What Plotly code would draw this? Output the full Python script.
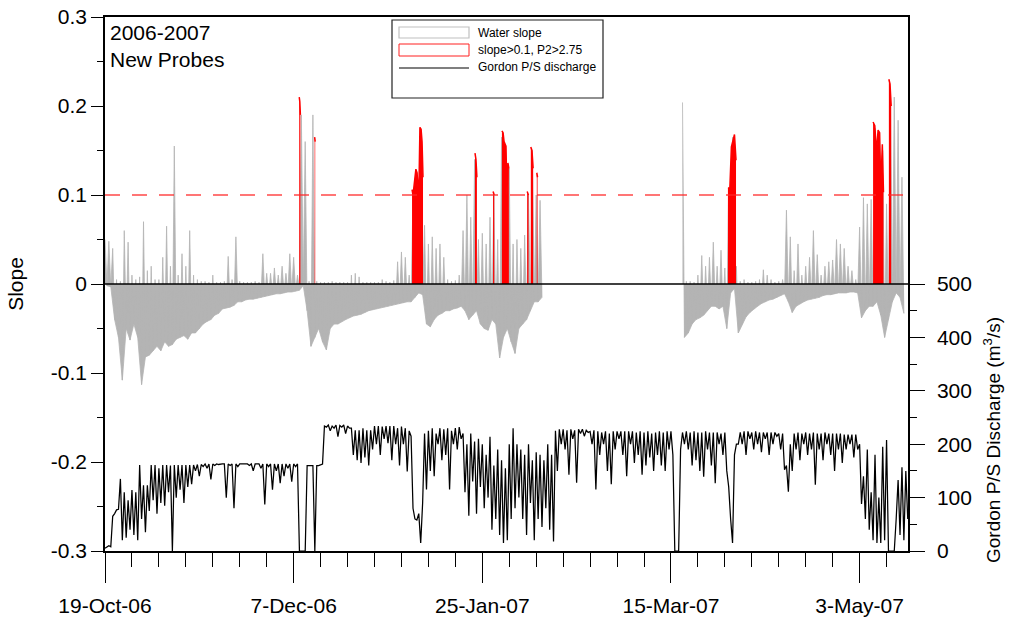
import pandas as pd
import plotly.graph_objects as go

# ---------------- data ----------------
START = "2006-10-19"
tick_dates = ["2006-10-19", "2006-12-07", "2007-01-25", "2007-03-15", "2007-05-03"]
tick_labels = ["19-Oct-06", "7-Dec-06", "25-Jan-07", "15-Mar-07", "3-May-07"]
slope_ticks = [-0.3, -0.2, -0.1, 0, 0.1, 0.2, 0.3]
slope_tick_labels = ["-0.3", "-0.2", "-0.1", "0", "0.1", "0.2", "0.3"]
q_ticks = [0, 100, 200, 300, 400, 500]
q_tick_labels = ["0", "100", "200", "300", "400", "500"]
threshold = 0.1

N = None
# water slope: daily positive peak (at 00:00) and negative trough (at 12:00), day 0 = 19-Oct-06
slope_hi = [
    0.050, 0.048, 0.040, 0.005, 0.003, 0.060, 0.047, 0.010, 0.005, 0.008,
    0.070, 0.015, 0.020, 0.005, 0.005, 0.030, 0.065, 0.020, 0.155, 0.010,
    0.034, 0.020, 0.060, 0.010, 0.005, 0.003, 0.003, 0.002, 0.010, 0.002,
    0.002, 0.003, 0.031, 0.005, 0.053, 0.003, 0.002, 0.002, 0.002, 0.003,
    0.002, 0.034, 0.012, 0.012, 0.018, 0.010, 0.020, 0.012, 0.034, 0.030,
    0.010, 0.190, 0.160, 0.003, 0.190, 0.003, 0.002, 0.002, 0.002, 0.003,
    0.002, 0.002, 0.002, 0.002, 0.010, 0.012, 0.008, 0.002, 0.002, 0.002,
    0.002, 0.002, 0.005, 0.003, 0.002, 0.004, 0.025, 0.036, 0.030, 0.010,
    0.100, 0.125, 0.170, 0.066, 0.045, 0.053, 0.040, 0.045, 0.030, 0.005,
    0.003, 0.004, 0.010, 0.060, 0.100, 0.075, 0.140, 0.050, 0.057, 0.045,
    0.075, 0.100, 0.050, 0.165, 0.150, 0.130, 0.045, 0.050, 0.040, 0.055,
    0.100, 0.150, 0.100, 0.094, N, N, N, N, N, N,
    N, N, N, N, N, N, N, N, N, N,
    N, N, N, N, N, N, N, N, N, N,
    N, N, N, N, N, N, N, N, N, N,
    0.204, 0.003, 0.003, 0.002, 0.010, 0.032, 0.020, 0.030, 0.047, 0.020,
    0.038, 0.018, 0.108, 0.165, 0.020, 0.003, 0.005, 0.002, 0.002, 0.003,
    0.005, 0.016, 0.010, 0.005, 0.002, 0.003, 0.005, 0.083, 0.053, 0.015,
    0.045, 0.010, 0.020, 0.030, 0.060, 0.033, 0.010, 0.020, 0.025, 0.027,
    0.050, 0.045, 0.040, 0.020, 0.015, 0.005, 0.064, 0.097, 0.090, 0.095,
    0.175, 0.170, 0.150, 0.090, 0.220, 0.210, 0.184, 0.120, N,
]
slope_lo = [
    -0.002, -0.003, -0.040, -0.060, -0.108, -0.050, -0.063, -0.045, -0.060, -0.113,
    -0.082, -0.080, -0.075, -0.070, -0.075, -0.065, -0.070, -0.068, -0.062, -0.060,
    -0.058, -0.062, -0.055, -0.055, -0.050, -0.045, -0.042, -0.040, -0.035, -0.033,
    -0.028, -0.027, -0.026, -0.024, -0.020, -0.020, -0.018, -0.017, -0.017, -0.016,
    -0.015, -0.014, -0.013, -0.012, -0.011, -0.011, -0.010, -0.009, -0.009, -0.008,
    -0.007, -0.002, -0.030, -0.070, -0.060, -0.050, -0.065, -0.074, -0.050, -0.045,
    -0.045, -0.042, -0.040, -0.038, -0.036, -0.035, -0.034, -0.032, -0.030, -0.029,
    -0.028, -0.027, -0.026, -0.025, -0.024, -0.023, -0.022, -0.021, -0.020, -0.020,
    -0.015, -0.010, -0.012, -0.045, -0.048, -0.040, -0.035, -0.033, -0.030, -0.030,
    -0.028, -0.027, -0.025, -0.030, -0.040, -0.035, -0.030, -0.045, -0.050, -0.052,
    -0.040, -0.045, -0.083, -0.060, -0.050, -0.065, -0.078, -0.050, -0.045, -0.040,
    -0.030, -0.020, -0.020, -0.015, N, N, N, N, N, N,
    N, N, N, N, N, N, N, N, N, N,
    N, N, N, N, N, N, N, N, N, N,
    N, N, N, N, N, N, N, N, N, N,
    -0.060, -0.055, -0.045, -0.040, -0.038, -0.035, -0.030, -0.025, -0.025, -0.028,
    -0.025, -0.050, -0.010, -0.005, -0.055, -0.045, -0.037, -0.032, -0.028, -0.025,
    -0.022, -0.020, -0.018, -0.017, -0.015, -0.013, -0.011, -0.020, -0.032, -0.025,
    -0.022, -0.020, -0.018, -0.017, -0.016, -0.015, -0.013, -0.012, -0.012, -0.011,
    -0.010, -0.010, -0.010, -0.009, -0.009, -0.010, -0.038, -0.030, -0.025, -0.025,
    -0.020, -0.035, -0.060, -0.040, -0.020, -0.010, -0.015, -0.033, N,
]

# slope>0.1, P2>2.75 periods (day offset from 19-Oct-06, slope value); None separates periods
red_day = [50.45, 50.6, 50.75, N, 54.45, 54.6, N,
           79.75, 80.0, 80.75, 81.05, 81.3, 81.55, 81.8, 82.1, 82.35, 82.6, N,
           96.1, 96.35, 96.6, N, 100.8, 101.1, N,
           103.1, 103.4, 103.65, 103.9, 104.15, 104.4, 104.65, 104.9, N,
           109.65, 110.0, N, 110.6, 110.9, 111.2, N, 112.15, 112.35, N,
           161.8, 162.3, 162.7, 163.1, 163.5, 163.9, N,
           199.5, 199.95, 200.4, 200.8, 201.2, 201.5, 201.9, 202.2, N,
           203.6, 203.9, 204.2]
red_val = [0.21, 0.205, 0.19, N, 0.165, 0.16, N,
           0.106, 0.1, 0.129, 0.125, 0.109, 0.11, 0.176, 0.174, 0.16, 0.12, N,
           0.147, 0.14, 0.12, N, 0.104, 0.1, N,
           0.172, 0.17, 0.16, 0.158, 0.155, 0.1, 0.136, 0.13, N,
           0.104, 0.1, N, 0.154, 0.15, 0.13, N, 0.125, 0.12, N,
           0.108, 0.108, 0.154, 0.16, 0.168, 0.139, N,
           0.182, 0.178, 0.148, 0.173, 0.17, 0.109, 0.157, 0.103, N,
           0.23, 0.225, 0.2]

# Gordon P/S discharge (m3/s): value at 00:00 (q_a) and 12:00 (q_b) of each day
q_a = [
    5, 10, 65, 77, 135, 110, 95, 114, 110, 161,
    123, 123, 161, 161, 155, 161, 161, 160, 161, 161,
    161, 161, 161, 161, 162, 162, 163, 163, 163, 163,
    163, 163, 163, 163, 163, 163, 163, 163, 163, 163,
    163, 163, 163, 163, 163, 163, 163, 163, 163, 163,
    163, 0, 0, 160, 160, 160, 162, 234, 236, 234,
    236, 235, 236, 234, 230, 226, 226, 230, 226, 226,
    234, 234, 233, 234, 234, 234, 230, 233, 230, 225,
    80, 58, 15, 220, 225, 230, 220, 230, 228, 230,
    225, 230, 232, 220, 200, 220, 205, 210, 200, 180,
    214, 160, 190, 170, 155, 200, 230, 200, 190, 180,
    200, 170, 185, 180, 170, 200, 180, 225, 228, 228,
    226, 228, 226, 228, 228, 226, 224, 226, 224, 222,
    224, 220, 224, 224, 224, 224, 224, 224, 222, 224,
    222, 224, 220, 222, 224, 222, 224, 224, 0, 0,
    222, 224, 222, 224, 222, 222, 224, 222, 222, 222,
    220, 222, 120, 15, 200, 222, 224, 224, 222, 224,
    222, 222, 222, 222, 222, 220, 220, 160, 200, 220,
    222, 220, 222, 220, 222, 220, 220, 222, 220, 220,
    220, 220, 218, 218, 218, 218, 200, 140, 190, 110,
    180, 100, 195, 208, 0, 0, 133, 157, 150,
]
q_b = [
    8, 8, 70, 78, 20, 25, 40, 30, 20, 60,
    35, 75, 95, 70, 90, 85, 110, 0, 100, 115,
    90, 120, 125, 150, 140, 158, 155, 134, 160, 162,
    163, 100, 160, 80, 158, 163, 163, 160, 150, 163,
    155, 87, 158, 115, 150, 127, 140, 155, 130, 158,
    0, 0, 160, 160, 0, 160, 163, 232, 225, 230,
    214, 232, 220, 230, 180, 170, 165, 175, 160, 190,
    200, 180, 210, 202, 170, 200, 160, 200, 149, 215,
    60, 70, 90, 115, 150, 140, 200, 170, 180, 115,
    200, 190, 210, 110, 66, 130, 70, 120, 80, 100,
    40, 60, 30, 15, 20, 60, 80, 100, 60, 30,
    90, 20, 60, 45, 80, 40, 18, 150, 200, 190,
    143, 210, 128, 220, 215, 222, 200, 115, 180, 200,
    150, 125, 190, 210, 180, 140, 200, 165, 180, 143,
    160, 175, 150, 180, 160, 150, 190, 180, 0, 190,
    200, 190, 160, 170, 150, 139, 190, 160, 127, 200,
    180, 150, 60, 180, 200, 200, 180, 210, 190, 200,
    185, 210, 180, 200, 215, 190, 152, 111, 150, 190,
    170, 200, 180, 190, 124, 190, 170, 200, 180, 150,
    190, 165, 190, 200, 175, 190, 88, 60, 40, 20,
    15, 15, 20, 0, 0, 60, 30, 20, 60,
]

# ---------------- build series ----------------
start = pd.Timestamp(START)
assert len(slope_hi) == len(slope_lo) == len(q_a) == len(q_b)
assert len(red_day) == len(red_val)


def day(d):
    return start + pd.Timedelta(days=d)


def runs(xs, ys):
    """Split a series into runs of consecutive non-missing points."""
    out, cx, cy = [], [], []
    for x, y in zip(xs, ys):
        if x is None or y is None:
            if cx:
                out.append((cx, cy))
            cx, cy = [], []
        else:
            cx.append(x)
            cy.append(y)
    if cx:
        out.append((cx, cy))
    return out


t_s, v_s, v_q, t_lo = [], [], [], []
for d in range(len(slope_hi)):
    t_s += [day(d), day(d + 0.5)]
    v_s += [slope_hi[d], slope_lo[d]]
    v_q += [q_a[d], q_b[d]]
    t_lo.append(day(d + 0.5))

t_red = [None if d is None else day(d) for d in red_day]

FONT = "Liberation Sans, Arial, Helvetica, sans-serif"
GRAY = "#b4b4b4"

fig = go.Figure()
# water slope: negative envelope (solid) + tidal zig-zag (peaks)
for xs, ys in runs(t_lo, slope_lo):
    fig.add_trace(go.Scatter(x=xs, y=ys, mode="lines", fill="tozeroy",
                             line=dict(color=GRAY, width=0.8), fillcolor=GRAY,
                             hoverinfo="skip", showlegend=False))
for xs, ys in runs(t_s, v_s):
    fig.add_trace(go.Scatter(x=xs, y=ys, mode="lines", fill="tozeroy",
                             line=dict(color=GRAY, width=0.8), fillcolor=GRAY,
                             name="Water slope", showlegend=False))
for xs, ys in runs(t_red, red_val):
    fig.add_trace(go.Scatter(x=xs, y=ys, mode="lines", fill="tozeroy",
                             line=dict(color="#ff0000", width=1.5), fillcolor="#ff0000",
                             name="slope>0.1, P2>2.75", showlegend=False))
fig.add_trace(go.Scatter(x=t_s, y=v_q, mode="lines", yaxis="y2",
                         line=dict(color="#000000", width=1.25),
                         name="Gordon P/S discharge", showlegend=False))

# plot-area pixel helpers (decoration only)
L, R, T, B = 105, 908, 17, 551
def px(x):
    return (x - L) / (R - L)
def py(y):
    return (B - y) / (B - T)


def outline(x0, y0, x1, y1):
    return (f"M {px(x0)},{py(y0)} L {px(x1)},{py(y0)} L {px(x1)},{py(y1)} "
            f"L {px(x0)},{py(y1)} Z")


shapes = [
    dict(type="line", xref="paper", yref="y", x0=0, x1=1, y0=threshold, y1=threshold,
         line=dict(color="rgba(255,40,40,0.85)", width=1.6, dash="15px,12px"), layer="above"),
    dict(type="line", xref="paper", yref="y", x0=0, x1=1, y0=0, y1=0,
         line=dict(color="#000000", width=1.5), layer="above"),
    # legend box
    dict(type="rect", xref="paper", yref="paper", x0=px(392), x1=px(603), y0=py(98), y1=py(20),
         line=dict(color="#222222", width=1.2), fillcolor="white", layer="above"),
    dict(type="path", xref="paper", yref="paper", path=outline(399, 27, 469, 38),
         line=dict(color="#c0c0c0", width=1.2), fillcolor="rgba(0,0,0,0)", layer="above"),
    dict(type="path", xref="paper", yref="paper", path=outline(399, 44, 469, 56),
         line=dict(color="#ff2020", width=1), fillcolor="rgba(0,0,0,0)", layer="above"),
    dict(type="line", xref="paper", yref="paper", x0=px(399), x1=px(469), y0=py(68), y1=py(68),
         line=dict(color="#000000", width=1.2), layer="above"),
]

legend_texts = ["Water slope", "slope>0.1, P2>2.75", "Gordon P/S discharge"]
legend_y = [33, 50, 67]
annotations = [
    dict(text=t, xref="paper", yref="paper", x=px(476), y=py(yy), xanchor="left",
         yanchor="middle", showarrow=False, font=dict(family=FONT, size=12, color="#000"))
    for t, yy in zip(legend_texts, legend_y)
]
annotations.append(dict(text="2006-2007<br>New Probes", xref="paper", yref="paper",
                        x=px(108), y=py(19), xanchor="left", yanchor="top", align="left",
                        showarrow=False, font=dict(family=FONT, size=21, color="#000")))
annotations.append(dict(text="Gordon P/S Discharge (m<sup>3</sup>/s)", xref="paper", yref="paper",
                        x=px(992), y=py(440), xanchor="center", yanchor="middle",
                        textangle=-90, showarrow=False,
                        font=dict(family=FONT, size=19, color="#000")))

fig.update_layout(
    width=1013, height=619,
    margin=dict(l=L, r=1013 - R, t=T, b=619 - B),
    plot_bgcolor="white", paper_bgcolor="white",
    font=dict(family=FONT, size=21, color="#000"),
    shapes=shapes, annotations=annotations,
    showlegend=False,
    xaxis=dict(type="date", range=[start, start + pd.Timedelta(days=208.57)],
               tickvals=tick_dates, ticktext=tick_labels,
               ticks="outside", ticklen=30, tickwidth=1.2, tickcolor="#000",
               minor=dict(dtick=7 * 24 * 3600 * 1000, tick0=START, ticks="outside",
                          ticklen=14, tickwidth=1.2, tickcolor="#000", showgrid=False),
               showline=True, linecolor="#000", linewidth=1.5, mirror=True,
               showgrid=False, zeroline=False, ticklabelstandoff=5, automargin=False,
               tickfont=dict(family=FONT, size=21)),
    yaxis=dict(range=[-0.3, 0.3], tickvals=slope_ticks, ticktext=slope_tick_labels,
               ticks="outside", ticklen=12, tickwidth=1.2, tickcolor="#000",
               minor=dict(tickvals=[-0.25, -0.15, -0.05, 0.05, 0.15, 0.25], ticks="outside",
                          ticklen=6, tickwidth=1.2, tickcolor="#000", showgrid=False),
               showline=True, linecolor="#000", linewidth=1.5,
               showgrid=False, zeroline=False, automargin=False,
               title=dict(text="Slope", standoff=22, font=dict(family=FONT, size=21)),
               tickfont=dict(family=FONT, size=21)),
    yaxis2=dict(range=[0, 1000], overlaying="y", side="right",
                tickvals=q_ticks, ticktext=q_tick_labels,
                ticks="outside", ticklen=15, tickwidth=1.2, tickcolor="#000",
                minor=dict(tickvals=[50, 150, 250, 350, 450], ticks="outside",
                           ticklen=7, tickwidth=1.2, tickcolor="#000", showgrid=False),
                showline=True, linecolor="#000", linewidth=1.5,
                showgrid=False, zeroline=False, ticklabelstandoff=8, automargin=False,
                tickfont=dict(family=FONT, size=21)),
)

fig.write_html("out.html", config={"displayModeBar": False},
               post_script="document.body.style.margin='0px';")
